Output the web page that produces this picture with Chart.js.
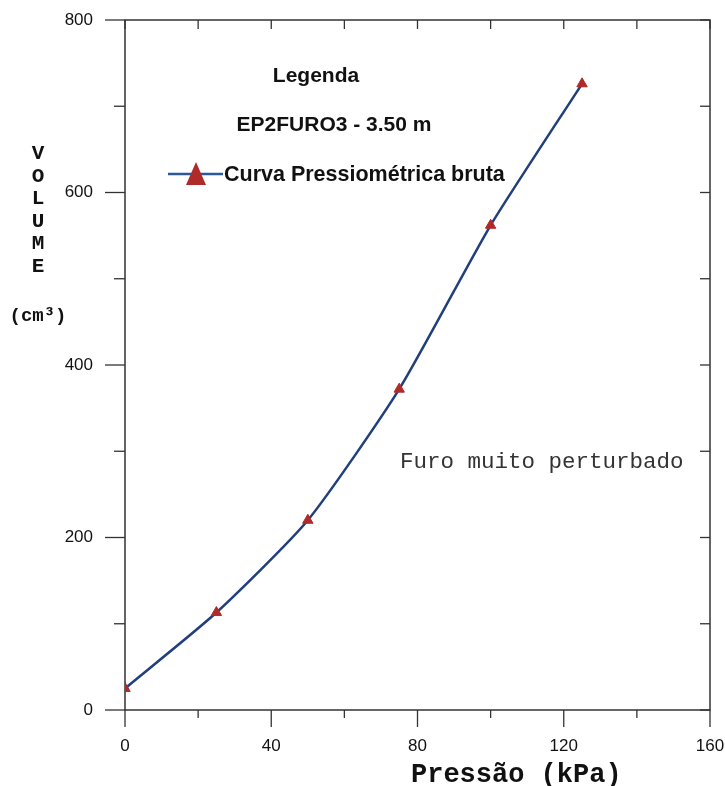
<!DOCTYPE html>
<html><head><meta charset="utf-8">
<script src="https://cdn.jsdelivr.net/npm/chart.js@4/dist/chart.umd.min.js"></script>
<style>html,body{margin:0;padding:0;background:#fff;}#wrap{position:relative;width:725px;height:786px;}</style>
</head><body><div id="wrap"><canvas id="c" width="725" height="786"></canvas></div>
<script>
const pressure = [0, 25, 50, 75, 100, 125];
const volume = [25, 113, 220, 372, 562, 726];
const xLabelTicks = [0, 40, 80, 120, 160];
const yLabelTicks = [0, 200, 400, 600, 800];
const seriesLabel = 'Curva Pressiométrica bruta';
const legendTitle = 'Legenda';
const legendSub = 'EP2FURO3 - 3.50 m';
const note = 'Furo muito perturbado';
const xTitle = 'Pressão (kPa)';
const yTitleLetters = ['V', 'O', 'L', 'U', 'M', 'E'];
const yUnit = '(cm³)';

const LINE = '#213f7c';
const MARK = '#b02a2a';
const AXIS = '#333';

function seg(ctx, x1, y1, x2, y2) { ctx.beginPath(); ctx.moveTo(x1, y1); ctx.lineTo(x2, y2); ctx.stroke(); }

const framePlugin = {
  id: 'frame',
  beforeDatasetsDraw(chart) {
    const {ctx, chartArea: a, scales: {x, y}} = chart;
    ctx.save();
    ctx.strokeStyle = AXIS; ctx.lineWidth = 1.5;
    ctx.strokeRect(a.left, a.top, a.right - a.left, a.bottom - a.top);
    ctx.lineWidth = 1.3;
    y.ticks.forEach(t => {
      const py = y.getPixelForValue(t.value);
      const major = yLabelTicks.includes(t.value);
      seg(ctx, a.left - (major ? 20 : 11), py, a.left, py);
      seg(ctx, a.right - 10, py, a.right, py);
    });
    x.ticks.forEach(t => {
      const px = x.getPixelForValue(t.value);
      const major = xLabelTicks.includes(t.value);
      seg(ctx, px, a.bottom, px, a.bottom + (major ? 17 : 8));
      seg(ctx, px, a.top, px, a.top + 9);
    });
    ctx.restore();
  },
  afterDraw(chart) {
    const {ctx} = chart;
    ctx.save();
    ctx.fillStyle = '#111';
    ctx.textBaseline = 'middle';
    ctx.textAlign = 'center';
    ctx.font = 'bold 21px "Liberation Sans", Arial, sans-serif';
    ctx.fillText(legendTitle, 316, 76);
    ctx.fillText(legendSub, 334, 125);
    // legend row
    ctx.strokeStyle = '#2a5a9a'; ctx.lineWidth = 2.5;
    seg(ctx, 168, 174, 223, 174);
    ctx.fillStyle = MARK;
    ctx.beginPath(); ctx.moveTo(196, 162); ctx.lineTo(206, 185); ctx.lineTo(186, 185); ctx.closePath(); ctx.fill();
    ctx.fillStyle = '#111';
    ctx.textAlign = 'left';
    ctx.font = 'bold 21.5px "Liberation Sans", Arial, sans-serif';
    ctx.fillText(chart.data.datasets[0].label, 224, 175);
    // note
    ctx.fillStyle = '#333';
    ctx.font = '22.5px "Liberation Mono", "Courier New", monospace';
    ctx.fillText(note, 400, 462);
    // y title
    ctx.fillStyle = '#111';
    ctx.textAlign = 'center';
    ctx.font = 'bold 21px "Liberation Mono", "Courier New", monospace';
    yTitleLetters.forEach((ch, i) => ctx.fillText(ch, 38, 154 + i * 22.5));
    ctx.font = 'bold 19px "Liberation Mono", "Courier New", monospace';
    ctx.fillText(yUnit, 38, 316);
    // x title
    ctx.textAlign = 'left';
    ctx.textBaseline = 'alphabetic';
    ctx.font = 'bold 27px "Liberation Mono", "Courier New", monospace';
    ctx.fillText(xTitle, 411, 782);
    ctx.restore();
  }
};

new Chart(document.getElementById('c'), {
  type: 'line',
  data: {
    datasets: [{
      label: seriesLabel,
      data: pressure.map((p, i) => ({x: p, y: volume[i]})),
      borderColor: LINE,
      borderWidth: 2.5,
      tension: 0.2,
      pointStyle: 'triangle',
      pointRadius: 6,
      pointBackgroundColor: MARK,
      pointBorderColor: MARK,
      pointBorderWidth: 1,
      fill: false
    }]
  },
  options: {
    responsive: false,
    animation: false,
    devicePixelRatio: 1,
    layout: {padding: {left: 0, right: 15, top: 20, bottom: 0}},
    plugins: {legend: {display: false}, tooltip: {enabled: false}},
    scales: {
      x: {
        type: 'linear', min: 0, max: 160,
        ticks: {stepSize: 20, padding: 18, maxRotation: 0, color: '#111', font: {family: '"Liberation Sans", Arial', size: 17},
          callback: v => xLabelTicks.includes(v) ? String(v) : ''},
        grid: {display: false}, border: {display: false},
        afterFit: s => { s.height = 76; s.paddingLeft = 0; s.paddingRight = 0; }
      },
      y: {
        type: 'linear', min: 0, max: 800,
        ticks: {stepSize: 100, padding: 24, color: '#111', font: {family: '"Liberation Sans", Arial', size: 17},
          callback: v => yLabelTicks.includes(v) ? String(v) : ''},
        grid: {display: false}, border: {display: false},
        afterFit: s => { s.width = 125; s.paddingTop = 0; s.paddingBottom = 0; }
      }
    }
  },
  plugins: [framePlugin]
});
</script></body></html>
